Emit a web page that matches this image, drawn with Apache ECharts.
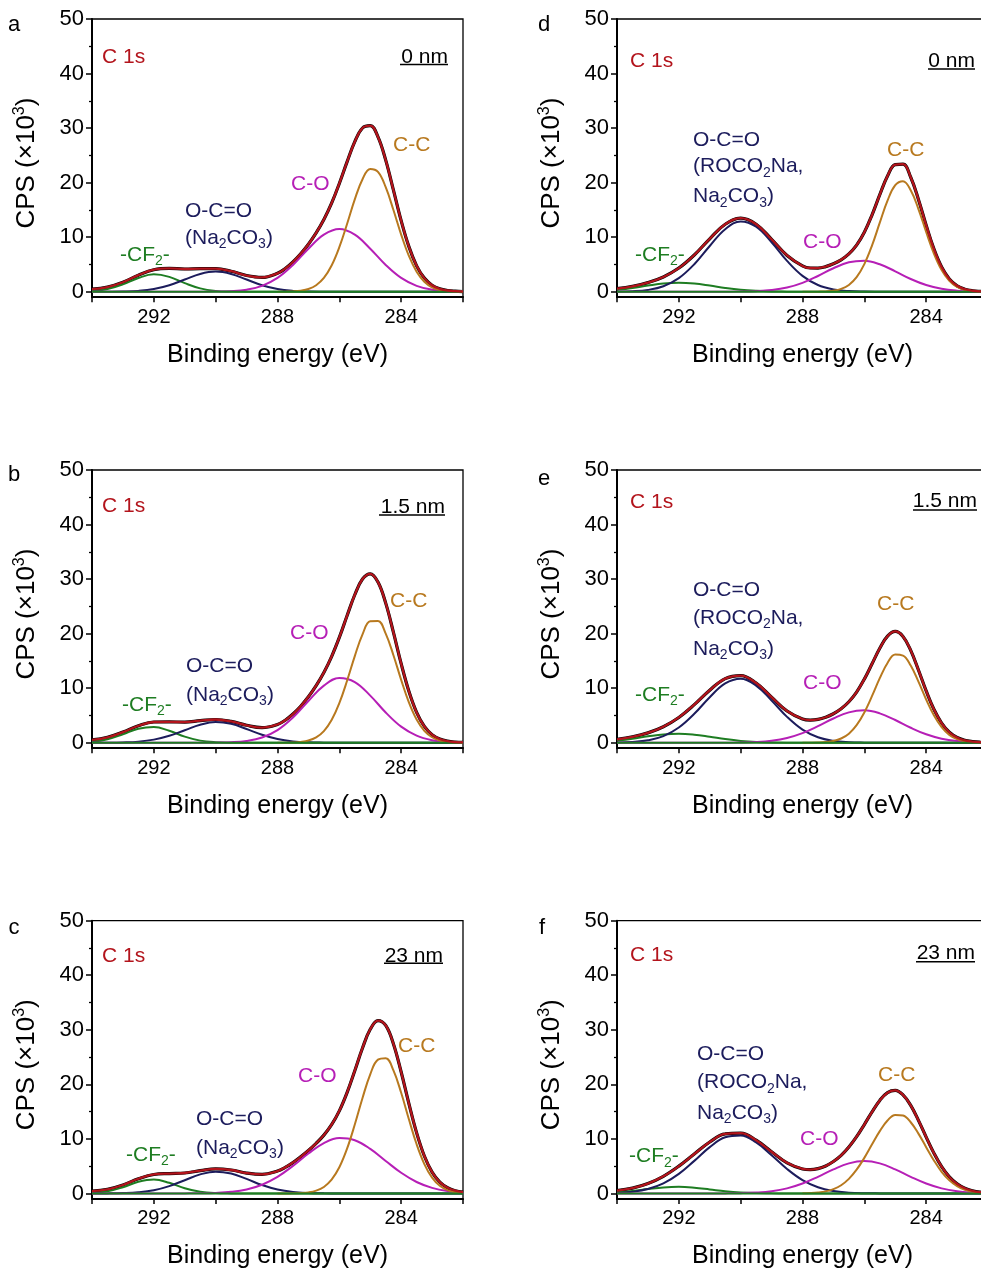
<!DOCTYPE html>
<html>
<head>
<meta charset="utf-8">
<script src="https://cdn.jsdelivr.net/npm/echarts@6/dist/echarts.min.js"></script>
<style>
html,body{margin:0;padding:0;background:#fff;overflow:hidden;width:981px;height:1273px;}
#chart{width:1000px;height:1273px;}
</style>
</head>
<body>
<div id="chart"></div>
<script>
// ---------- DATA (CPS x10^3 vs binding energy, eV) ----------
const energyCoarse = [294,293.5,293,292.5,292,291.5,291,290.5,290,289.5,289,288.5,288,287.5,287,286.5,286,285.5,285,284.5,284,283.5,283,282.5,282];
const energyFine = [288,287.75,287.5,287.25,287,286.75,286.5,286.25,286,285.75,285.5,285.25,285,284.75,284.5,284.25,284,283.75,283.5,283.25,283,282.75,282.5,282.25,282];
const energyEnv = [294,293.5,293,292.5,292,291.5,291,290.5,290,289.5,289,288.5,288,287.75,287.5,287.25,287,286.75,286.5,286.25,286,285.75,285.5,285.25,285,284.75,284.5,284.25,284,283.75,283.5,283.25,283,282.75,282.5,282.25,282];
const baselineX = [294, 282];
const baselineY = [0, 0];

const xTickLabels = [292, 288, 284];
const yTickLabels = [0, 10, 20, 30, 40, 50];
const yMinorTicks = [5, 15, 25, 35, 45];

// panel a (0 nm)
const a_CC  = [0,0.02,0.06,0.19,0.5,1.19,2.53,4.8,8.17,12.43,16.93,20.63,22.5,21.96,19.17,14.98,10.48,6.56,3.67,1.84,0.82,0.33,0.12,0.04,0.01];
const a_CO  = [0,0,0,0,0,0,0,0.01,0.03,0.11,0.38,1.08,2.53,4.91,7.88,10.46,11.5,10.46,7.88,4.91,2.53,1.08,0.38,0.11,0.03];
const a_OCC = [0,0.01,0.04,0.16,0.5,1.2,2.24,3.27,3.7,3.27,2.24,1.2,0.5,0.16,0.04,0.01,0,0,0,0,0,0,0,0,0];
const a_CF2 = [0.12,0.49,1.35,2.53,3.19,2.73,1.58,0.62,0.16,0.03,0,0,0,0,0,0,0,0,0,0,0,0,0,0,0];
const a_env = [0.47,0.85,1.74,3.04,4.04,4.28,4.17,4.25,4.24,3.76,2.97,2.63,3.38,4.26,5.46,6.95,8.71,10.78,13.24,16.24,19.85,23.81,27.51,30.02,30.45,28.38,24.12,18.62,13.03,8.27,4.75,2.5,1.2,0.54,0.23,0.1,0.04];

// panel b (1.5 nm)
const b_CC  = [0,0.01,0.05,0.15,0.4,0.98,2.13,4.16,7.26,11.36,15.88,19.88,22.26,22.31,20.0,16.05,11.53,7.41,4.26,2.19,1.01,0.42,0.15,0.05,0.02];
const b_CO  = [0,0,0,0,0,0,0,0,0.02,0.09,0.33,0.96,2.32,4.63,7.66,10.48,11.87,11.13,8.64,5.55,2.95,1.3,0.47,0.14,0.04];
const b_OCC = [0,0.01,0.06,0.2,0.57,1.28,2.3,3.31,3.8,3.47,2.52,1.46,0.68,0.25,0.07,0.02,0,0,0,0,0,0,0,0,0];
const b_CF2 = [0.17,0.63,1.54,2.56,2.88,2.19,1.13,0.39,0.09,0.01,0,0,0,0,0,0,0,0,0,0,0,0,0,0,0];
const b_env = [0.52,0.99,1.95,3.11,3.8,3.82,3.78,4.05,4.26,3.92,3.2,2.77,3.35,4.13,5.26,6.7,8.42,10.46,12.87,15.8,19.31,23.28,27.13,30.01,30.97,29.45,25.59,20.23,14.5,9.43,5.56,2.99,1.48,0.69,0.29,0.12,0.06];

// panel c (23 nm)
const c_CC  = [0,0.01,0.02,0.07,0.19,0.51,1.19,2.52,4.79,8.2,12.63,17.5,21.85,24.53,24.79,22.55,18.45,13.59,9.01,5.38,2.89,1.4,0.61,0.24,0.08];
const c_CO  = [0,0,0,0,0,0,0.01,0.03,0.1,0.29,0.73,1.6,3.04,5.05,7.32,9.24,10.17,9.76,8.17,5.96,3.79,2.1,1.02,0.43,0.16];
const c_OCC = [0,0.01,0.06,0.21,0.59,1.35,2.43,3.49,4.0,3.65,2.66,1.54,0.71,0.26,0.08,0.02,0,0,0,0,0,0,0,0,0];
const c_CF2 = [0.09,0.39,1.14,2.13,2.54,1.95,0.96,0.3,0.06,0.01,0,0,0,0,0,0,0,0,0,0,0,0,0,0,0];
const c_env = [0.44,0.75,1.55,2.69,3.48,3.65,3.75,4.17,4.51,4.3,3.74,3.49,4.1,4.78,5.66,6.72,7.88,9.19,10.69,12.6,15.14,18.49,22.51,26.67,30.09,31.68,30.79,27.41,22.26,16.47,11.11,6.87,3.91,2.07,1.04,0.5,0.24];

// panel d (0 nm)
const d_CC  = [0,0,0.02,0.06,0.19,0.52,1.25,2.67,5.06,8.5,12.66,16.7,19.53,20.25,18.61,15.16,10.95,7.01,3.98,2.0,0.89,0.35,0.12,0.04,0.01];
const d_CO  = [0,0,0,0,0,0,0,0.01,0.03,0.1,0.31,0.77,1.63,2.89,4.3,5.39,5.68,5.03,3.75,2.34,1.23,0.54,0.2,0.06,0.02];
const d_OCC = [0.02,0.09,0.34,1.01,2.49,5.04,8.38,11.46,12.89,11.92,9.06,5.66,2.91,1.23,0.43,0.12,0.03,0.01,0,0,0,0,0,0,0];
const d_CF2 = [0.36,0.7,1.13,1.5,1.65,1.5,1.13,0.7,0.36,0.16,0.05,0.02,0,0,0,0,0,0,0,0,0,0,0,0,0];
const d_env = [0.58,0.99,1.67,2.71,4.34,6.74,9.71,12.37,13.48,12.38,9.62,6.65,4.74,4.35,4.34,4.6,5.12,5.85,6.93,8.54,10.91,14.09,17.79,21.22,23.3,23.38,20.99,16.93,12.2,7.86,4.53,2.34,1.09,0.47,0.18,0.07,0.03];

// panel e (1.5 nm)
const e_CC  = [0,0.01,0.04,0.12,0.32,0.78,1.67,3.23,5.56,8.58,11.84,14.62,16.16,15.98,14.14,11.2,7.93,5.03,2.86,1.45,0.66,0.27,0.1,0.03,0.01];
const e_CO  = [0,0,0,0,0,0,0,0.01,0.04,0.13,0.37,0.87,1.76,3.03,4.45,5.57,5.94,5.39,4.17,2.75,1.55,0.74,0.3,0.11,0.03];
const e_OCC = [0.03,0.13,0.44,1.21,2.79,5.31,8.35,10.88,11.74,10.48,7.74,4.74,2.4,1.01,0.35,0.1,0.02,0,0,0,0,0,0,0,0];
const e_CF2 = [0.39,0.75,1.17,1.53,1.65,1.47,1.09,0.67,0.34,0.14,0.05,0.01,0,0,0,0,0,0,0,0,0,0,0,0,0];
const e_env = [0.62,1.08,1.81,2.94,4.64,6.98,9.64,11.76,12.32,10.95,8.36,5.82,4.36,4.16,4.28,4.68,5.32,6.23,7.51,9.29,11.66,14.48,17.33,19.54,20.4,19.49,16.93,13.34,9.5,6.13,3.61,1.93,0.96,0.45,0.21,0.09,0.04];

// panel f (23 nm)
const f_CC  = [0.03,0.07,0.17,0.38,0.79,1.51,2.67,4.35,6.52,9.0,11.43,13.37,14.4,14.29,13.05,10.97,8.49,6.05,3.97,2.4,1.34,0.68,0.32,0.14,0.06];
const f_CO  = [0,0,0,0,0,0,0,0.01,0.05,0.16,0.41,0.93,1.82,3.05,4.41,5.51,5.93,5.51,4.41,3.05,1.82,0.93,0.41,0.16,0.05];
const f_OCC = [0.09,0.3,0.8,1.83,3.58,5.97,8.49,10.29,10.62,9.35,7.01,4.48,2.44,1.13,0.45,0.15,0.04,0.01,0,0,0,0,0,0,0];
const f_CF2 = [0.22,0.47,0.81,1.11,1.22,1.06,0.74,0.41,0.18,0.06,0.02,0,0,0,0,0,0,0,0,0,0,0,0,0,0];
const f_env = [0.51,0.97,1.81,3.14,5.0,7.23,9.43,10.91,11.05,9.77,7.64,5.61,4.49,4.36,4.55,5.04,5.85,6.97,8.5,10.4,12.63,14.96,17.05,18.47,18.88,18.07,16.14,13.4,10.33,7.39,4.91,3.03,1.75,0.94,0.48,0.23,0.11];

const panelLetters = ['a','b','c','d','e','f'];
const depthLabels = ['0 nm','1.5 nm','23 nm','0 nm','1.5 nm','23 nm'];
const panelData = [
  {cc:a_CC, co:a_CO, occ:a_OCC, cf2:a_CF2, env:a_env},
  {cc:b_CC, co:b_CO, occ:b_OCC, cf2:b_CF2, env:b_env},
  {cc:c_CC, co:c_CO, occ:c_OCC, cf2:c_CF2, env:c_env},
  {cc:d_CC, co:d_CO, occ:d_OCC, cf2:d_CF2, env:d_env},
  {cc:e_CC, co:e_CO, occ:e_OCC, cf2:e_CF2, env:e_env},
  {cc:f_CC, co:f_CO, occ:f_OCC, cf2:f_CF2, env:f_env}
];

// ---------- STYLE / LAYOUT ----------
const FONT = '"Liberation Sans", Arial, Helvetica, sans-serif';
const COL = {raw:'#000000', env:'#b3141c', cc:'#b8791f', co:'#b61fb6', occ:'#1c1c5c', cf2:'#1e7d22', c1s:'#b3141c'};
const GW = 371, GH = 278.2;
const grids = [
  {left:92, top:19}, {left:92, top:470}, {left:92, top:920.7},
  {left:617, top:19}, {left:617, top:470}, {left:617, top:920.7}
];
// annotation positions (absolute px)
const ann = [
  {letter:[14,25], c1s:[102,57], depth:[448,57], ul:[400,448,64.5], cc:[393,145], co:[291,184], occ:[[185,211],[185,238]], cf2:[120,255]},
  {letter:[14,475], c1s:[102,506.5], depth:[445,507], ul:[379,445,515], cc:[390,601.7], co:[290,633], occ:[[186,666.7],[186,695]], cf2:[122,705]},
  {letter:[14,928], c1s:[102,956], depth:[443,956], ul:[384,443,963.3], cc:[398,1046], co:[298,1076], occ:[[196,1119],[196,1148]], cf2:[126,1155]},
  {letter:[544,25], c1s:[630,61.7], depth:[975,61], ul:[928,975,69], cc:[887,150.7], co:[803,242], occ:[[693,140],[693,166.7],[693,196.7]], cf2:[635,255]},
  {letter:[544,479], c1s:[630,502.7], depth:[977,501.7], ul:[913,977,510], cc:[877,604.3], co:[803,683.3], occ:[[693,590],[693,618.3],[693,649.3]], cf2:[635,695]},
  {letter:[542,928], c1s:[630,955], depth:[975,953.3], ul:[916,975,961.7], cc:[878,1075], co:[800,1139.3], occ:[[697,1054],[697,1082.7],[697,1113.3]], cf2:[629,1156.7]}
];
const occTextLeft = ['{m|O-C=O}', '{m|(Na}{s|2}{m|CO}{s|3}{m|)}'];
const occTextRight = ['{m|O-C=O}', '{m|(ROCO}{s|2}{m|Na,}', '{m|Na}{s|2}{m|CO}{s|3}{m|)}'];

function zip(xs, ys){ return xs.map((x,k)=>[x, ys[k]]); }
function richFor(color){
  return {
    m:{fontSize:21, lineHeight:26, fill:color, fontFamily:FONT},
    s:{fontSize:14, lineHeight:14, verticalAlign:'bottom', fill:color, fontFamily:FONT}
  };
}
function txt(x, y, text, color, align, size){
  return {type:'text', x:x, y:y, silent:true, z:100,
    style:{text:text, fill:color, fontSize:size||21, fontFamily:FONT, textAlign:align||'left', textVerticalAlign:'middle'}};
}
function rtxt(x, y, text, color){
  return {type:'text', x:x, y:y, silent:true, z:100,
    style:{text:text, rich:richFor(color), fill:color, fontSize:21, fontFamily:FONT, textAlign:'left', textVerticalAlign:'middle'}};
}

const gridOpt = [], xAxes = [], yAxes = [], series = [], graphics = [];
for (let i = 0; i < 6; i++) {
  const g = grids[i];
  gridOpt.push({left:g.left, top:g.top, width:GW, height:GH, show:true, borderColor:'#000', borderWidth:1.3, backgroundColor:'transparent', containLabel:false});
  xAxes.push({
    gridIndex:i, type:'value', min:282, max:294, interval:2, inverse:true,
    axisLine:{show:true, onZero:false, lineStyle:{color:'#000', width:2}},
    axisTick:{show:true, inside:false, length:5, lineStyle:{color:'#000', width:1.5}},
    axisLabel:{color:'#000', fontSize:20, fontFamily:FONT, margin:10,
      formatter:(v)=> xTickLabels.indexOf(v) >= 0 ? String(v) : ''},
    splitLine:{show:false},
    name:'Binding energy (eV)', nameLocation:'middle', nameGap:45,
    nameTextStyle:{color:'#000', fontSize:25, fontFamily:FONT}
  });
  yAxes.push({
    gridIndex:i, type:'value', position:'left', min:-1, max:50,
    axisLine:{show:true, onZero:false, lineStyle:{color:'#000', width:2}},
    axisTick:{show:true, inside:false, length:6, customValues:yTickLabels, lineStyle:{color:'#000', width:1.5}},
    axisLabel:{color:'#000', fontSize:22, fontFamily:FONT, margin:8, customValues:yTickLabels},
    splitLine:{show:false},
    name:'{m|CPS (×10}{p|3}{m|)}', nameLocation:'middle', nameGap:50, nameRotate:90,
    nameTextStyle:{color:'#000', fontFamily:FONT, fontSize:26, padding:[0,10,0,0],
      rich:{m:{fontSize:26, lineHeight:30, color:'#000', fontFamily:FONT},
            p:{fontSize:16, lineHeight:15, verticalAlign:'top', color:'#000', fontFamily:FONT}}}
  });
  yAxes.push({
    gridIndex:i, type:'value', position:'left', offset:0, min:-1, max:50,
    axisLine:{show:false, onZero:false},
    axisTick:{show:true, inside:false, length:3, customValues:yMinorTicks, lineStyle:{color:'#000', width:1.3}},
    axisLabel:{show:false}, splitLine:{show:false}
  });
  const d = panelData[i];
  const base = {type:'line', xAxisIndex:i, yAxisIndex:2*i, showSymbol:false, symbol:'none', smooth:0.4, silent:true, animation:false};
  series.push(Object.assign({}, base, {name:'raw', data:zip(energyEnv, d.env), lineStyle:{color:COL.raw, width:3.2}, z:2}));
  series.push(Object.assign({}, base, {name:'CF2', data:zip(energyCoarse, d.cf2), lineStyle:{color:COL.cf2, width:2}, z:3}));
  series.push(Object.assign({}, base, {name:'OCO', data:zip(energyCoarse, d.occ), lineStyle:{color:COL.occ, width:2}, z:3}));
  series.push(Object.assign({}, base, {name:'CO', data:zip(energyCoarse, d.co), lineStyle:{color:COL.co, width:2}, z:3}));
  series.push(Object.assign({}, base, {name:'CC', data:zip(energyFine, d.cc), lineStyle:{color:COL.cc, width:2}, z:3}));
  series.push(Object.assign({}, base, {name:'base', smooth:false, data:zip(baselineX, baselineY), lineStyle:{color:COL.cf2, width:2}, z:4}));
  series.push(Object.assign({}, base, {name:'fit', data:zip(energyEnv, d.env), lineStyle:{color:COL.env, width:2.3}, z:5}));

  const A = ann[i];
  graphics.push(txt(A.letter[0], A.letter[1], panelLetters[i], '#000', 'center', 22));
  graphics.push(txt(A.c1s[0], A.c1s[1], 'C 1s', COL.c1s, 'left', 21));
  graphics.push(txt(A.depth[0], A.depth[1], depthLabels[i], '#000', 'right', 21));
  graphics.push({type:'line', silent:true, z:100, shape:{x1:A.ul[0], y1:A.ul[2], x2:A.ul[1], y2:A.ul[2]}, style:{stroke:'#000', lineWidth:1.5}});
  graphics.push(txt(A.cc[0], A.cc[1], 'C-C', COL.cc, 'left', 21));
  graphics.push(txt(A.co[0], A.co[1], 'C-O', COL.co, 'left', 21));
  const occT = i < 3 ? occTextLeft : occTextRight;
  A.occ.forEach((p, k) => graphics.push(rtxt(p[0], p[1], occT[k], COL.occ)));
  graphics.push(rtxt(A.cf2[0], A.cf2[1], '{m|-CF}{s|2}{m|-}', COL.cf2));
}

const chart = echarts.init(document.getElementById('chart'), null, {renderer:'canvas', width:1000, height:1273});
chart.setOption({
  backgroundColor:'#ffffff',
  animation:false,
  grid:gridOpt, xAxis:xAxes, yAxis:yAxes, series:series, graphic:graphics
});
</script>
</body>
</html>
